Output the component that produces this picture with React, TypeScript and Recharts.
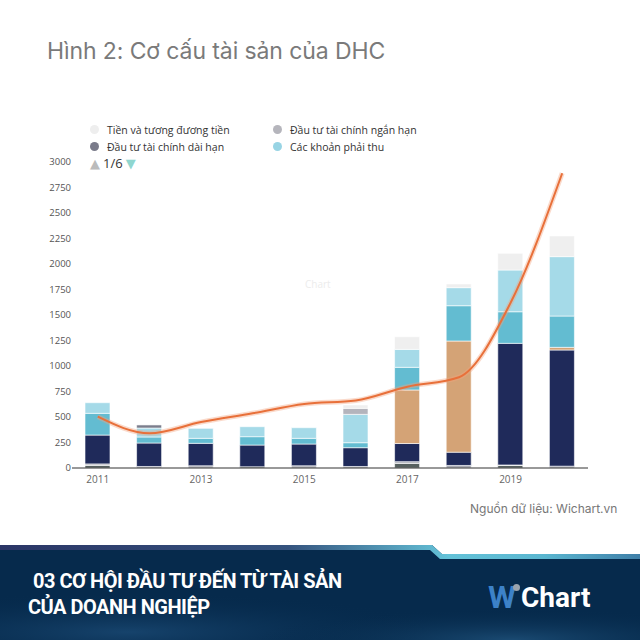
import { Bar, ComposedChart, Line, XAxis, YAxis } from "recharts";

const years = ["2011", "2012", "2013", "2014", "2015", "2016", "2017", "2018", "2019", "2020"];

// stacked from the bottom up
const otherLongTerm = [25, 0, 0, 12, 0, 10, 45, 0, 25, 0];
const otherShortTerm = [15, 15, 22, 0, 22, 5, 17, 25, 5, 18];
const fixedAssets = [283, 230, 220, 213, 213, 184, 178, 130, 1192, 1139];
const constructionInProgress = [0, 0, 0, 0, 0, 0, 525, 1090, 0, 26];
const inventories = [213, 59, 49, 82, 56, 49, 222, 346, 310, 307];
const receivables = [104, 88, 98, 98, 104, 278, 176, 177, 409, 582];
const longTermInvestments = [0, 30, 0, 0, 0, 0, 0, 0, 0, 0];
const shortTermInvestments = [0, 0, 0, 0, 0, 59, 0, 0, 0, 0];
const cash = [0, 0, 0, 0, 0, 33, 124, 36, 164, 203];
const trendLine = [503, 340, 450, 536, 628, 662, 797, 890, 1620, 2890];

const yTicks = [0, 250, 500, 750, 1000, 1250, 1500, 1750, 2000, 2250, 2500, 2750, 3000];

const series = [
  { key: "otherLongTerm", name: "Tài sản dài hạn khác", color: "#56605f" },
  { key: "otherShortTerm", name: "Tài sản ngắn hạn khác", color: "#a9abb4" },
  { key: "fixedAssets", name: "Tài sản cố định", color: "#1f2a5a" },
  { key: "constructionInProgress", name: "Xây dựng cơ bản dở dang", color: "#d4a376" },
  { key: "inventories", name: "Hàng tồn kho", color: "#63bcd1" },
  { key: "receivables", name: "Các khoản phải thu", color: "#a5dae8" },
  { key: "longTermInvestments", name: "Đầu tư tài chính dài hạn", color: "#7b7d8c" },
  { key: "shortTermInvestments", name: "Đầu tư tài chính ngắn hạn", color: "#b4b4bc" },
  { key: "cash", name: "Tiền và tương đương tiền", color: "#efefef" },
];

// first legend page only (1/6)
const legendPage = [
  { name: "Tiền và tương đương tiền", color: "#eeeeee" },
  { name: "Đầu tư tài chính ngắn hạn", color: "#b5b5bc" },
  { name: "Đầu tư tài chính dài hạn", color: "#7a7b8a" },
  { name: "Các khoản phải thu", color: "#98d4e4" },
];

const data = years.map((year, i) => ({
  year,
  otherLongTerm: otherLongTerm[i],
  otherShortTerm: otherShortTerm[i],
  fixedAssets: fixedAssets[i],
  constructionInProgress: constructionInProgress[i],
  inventories: inventories[i],
  receivables: receivables[i],
  longTermInvestments: longTermInvestments[i],
  shortTermInvestments: shortTermInvestments[i],
  cash: cash[i],
  trend: trendLine[i],
}));

const labelFont = '"Open Sans", "DejaVu Sans", sans-serif';

function LegendBox() {
  return (
    <div style={{ fontFamily: labelFont, fontSize: 10.5, color: "#333" }}>
      <div style={{ display: "grid", gridTemplateColumns: "183px 200px", rowGap: 4 }}>
        {legendPage.map((item) => (
          <div key={item.name} style={{ display: "flex", alignItems: "center", height: 13 }}>
            <span
              style={{
                width: 9,
                height: 9,
                borderRadius: "50%",
                background: item.color,
                marginRight: 8,
              }}
            />
            {item.name}
          </div>
        ))}
      </div>
      <div style={{ display: "flex", alignItems: "center", marginTop: 1, fontSize: 13, color: "#333" }}>
        <span style={{ color: "#bbb", fontSize: 13, marginRight: 3 }}>▲</span>
        1/6
        <span style={{ color: "#8fd6cf", fontSize: 13, marginLeft: 3 }}>▼</span>
      </div>
    </div>
  );
}

export default function App() {
  return (
    <div
      style={{
        position: "absolute",
        left: 0,
        top: 0,
        width: 640,
        height: 640,
        background: "#fff",
        overflow: "hidden",
      }}
    >
      <div
        style={{
          position: "absolute",
          left: 47,
          top: 37,
          fontFamily: "Inter, sans-serif",
          fontSize: 23,
          color: "#7a7a7a",
          letterSpacing: -0.1,
        }}
      >
        Hình 2: Cơ cấu tài sản của DHC
      </div>

      <div
        style={{
          position: "absolute",
          left: 305,
          top: 277,
          fontFamily: labelFont,
          fontSize: 10,
          color: "#ececec",
        }}
      >
        Chart
      </div>

      <div style={{ position: "absolute", left: 0, top: 0 }}>
        <ComposedChart
          width={640}
          height={500}
          data={data}
          margin={{ top: 162, right: 52, bottom: 2, left: 30 }}
          barSize={25}
        >
          <XAxis
            dataKey="year"
            interval={1}
            axisLine={{ stroke: "#333" }}
            tickLine={false}
            tick={{ fill: "#666", fontSize: 10, fontFamily: labelFont }}
            height={30}
          />
          <YAxis
            domain={[0, 3000]}
            ticks={yTicks}
            axisLine={false}
            tickLine={false}
            tickSize={0}
            tickMargin={1}
            width={42}
            tick={{ fill: "#555", fontSize: 9.5, fontFamily: labelFont }}
          />
          {series.map((s) => (
            <Bar
              key={s.key}
              dataKey={s.key}
              name={s.name}
              stackId="assets"
              fill={s.color}
              stroke="#fff"
              strokeWidth={0.6}
              isAnimationActive={false}
            />
          ))}
          <Line
            dataKey="trend"
            type="monotone"
            stroke="#f2a27c"
            strokeOpacity={0.4}
            strokeWidth={5}
            dot={false}
            isAnimationActive={false}
          />
          <Line
            dataKey="trend"
            type="monotone"
            stroke="#e8703a"
            strokeWidth={2}
            dot={false}
            isAnimationActive={false}
          />
        </ComposedChart>
      </div>

      <div style={{ position: "absolute", left: 90, top: 123 }}>
        <LegendBox />
      </div>

      <div
        style={{
          position: "absolute",
          left: 470,
          top: 501,
          fontFamily: "Inter, sans-serif",
          fontSize: 12,
          color: "#777",
        }}
      >
        Nguồn dữ liệu: Wichart.vn
      </div>

      <svg width={640} height={100} style={{ position: "absolute", left: 0, top: 540 }}>
        <defs>
          <linearGradient id="strip" x1="0" x2="1" y1="0" y2="0">
            <stop offset="0" stopColor="#2b3566" />
            <stop offset="0.45" stopColor="#35537e" />
            <stop offset="0.7" stopColor="#64c2d8" />
            <stop offset="0.85" stopColor="#5ab6d0" />
            <stop offset="1" stopColor="#3f7fa8" />
          </linearGradient>
          <radialGradient id="glow1" cx="0.2" cy="0.9" r="0.5">
            <stop offset="0" stopColor="#16436c" />
            <stop offset="1" stopColor="#062a4c" stopOpacity={0} />
          </radialGradient>
          <radialGradient id="glow2" cx="0.8" cy="1" r="0.4">
            <stop offset="0" stopColor="#1a4a72" />
            <stop offset="1" stopColor="#062a4c" stopOpacity={0} />
          </radialGradient>
        </defs>
        <polygon points="0,5 432,5 442,14 640,14 640,100 0,100" fill="#062a4c" />
        <rect x={0} y={20} width={640} height={80} fill="url(#glow1)" />
        <rect x={0} y={20} width={640} height={80} fill="url(#glow2)" />
        <polygon points="0,5 432,5 442,14 640,14 640,19 440,19 430,10 0,10" fill="url(#strip)" />
      </svg>

      <div
        style={{
          position: "absolute",
          left: 28,
          top: 568,
          fontFamily: "Roboto, sans-serif",
          fontWeight: 700,
          fontSize: 20,
          lineHeight: "26px",
          color: "#fff",
          letterSpacing: -0.5,
        }}
      >
        <div style={{ paddingLeft: 5 }}>03 CƠ HỘI ĐẦU TƯ ĐẾN TỪ TÀI SẢN</div>
        <div>CỦA DOANH NGHIỆP</div>
      </div>

      <div
        style={{
          position: "absolute",
          left: 488,
          top: 582,
          display: "flex",
          alignItems: "flex-end",
          fontFamily: "Roboto, sans-serif",
          fontWeight: 700,
          fontSize: 28,
          color: "#fff",
        }}
      >
        <span style={{ color: "#3d82c8", fontSize: 32, lineHeight: "30px", letterSpacing: -3 }}>W</span>
        <span
          style={{
            width: 7,
            height: 7,
            borderRadius: "50%",
            background: "#9aa3ad",
            alignSelf: "flex-start",
            marginTop: 2,
            marginRight: 1,
          }}
        />
        <span style={{ lineHeight: "28px" }}>Chart</span>
      </div>
    </div>
  );
}
